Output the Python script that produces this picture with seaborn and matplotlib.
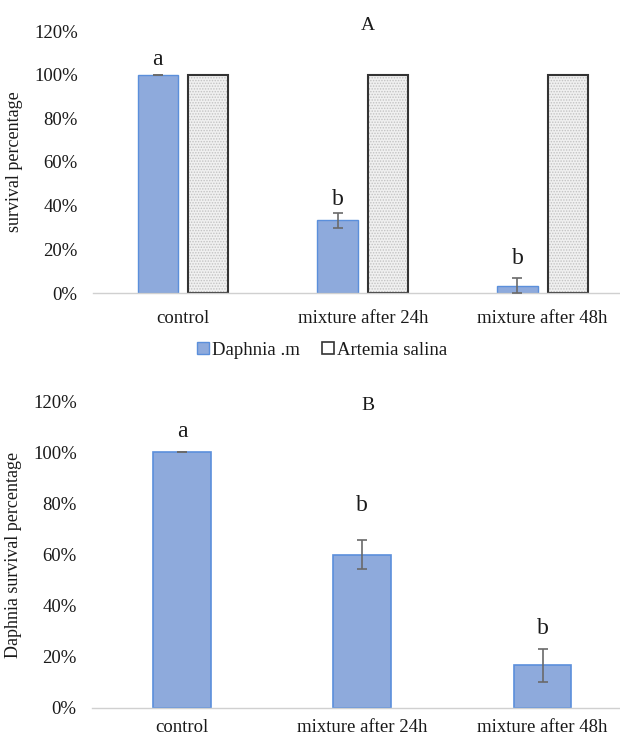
import matplotlib
matplotlib.use("Agg")
import matplotlib.pyplot as plt
import matplotlib.ticker as mticker
from matplotlib.patches import Patch
import seaborn as sns
import pandas as pd

# ---- data ----
treatments = ["control", "mixture after 24h", "mixture after 48h"]
species = ["Daphnia .m", "Artemia salina"]

# panel A: survival of both species (fraction)
daphnia_a = [1.00, 0.333, 0.033]
daphnia_a_err = [0.0, 0.034, 0.034]
artemia_a = [1.00, 1.00, 1.00]
letters_a = ["a", "b", "b"]
letters_a_y = [1.07, 0.43, 0.16]

# panel B: Daphnia survival (fraction)
daphnia_b = [1.00, 0.60, 0.167]
daphnia_b_err = [0.0, 0.058, 0.064]
letters_b = ["a", "b", "b"]
letters_b_y = [1.08, 0.79, 0.31]

y_ticks = [0, 0.2, 0.4, 0.6, 0.8, 1.0, 1.2]

# ---- style ----
sns.set_theme(style="white")
plt.rcParams["font.family"] = ["Liberation Serif", "DejaVu Serif"]
plt.rcParams["hatch.linewidth"] = 0.7

blue_fill = "#8eaadc"
blue_edge = "#5b8fdb"
gray_fill = "#f0f0f0"
err_col = "#6a6a6a"
txt_col = "#1a1a1a"
FS = 13.5

W, H = 620, 736
fig = plt.figure(figsize=(W / 100, H / 100), dpi=100)

x_right = 2.43


def make_axes(left_px, top_px, bottom_px):
    return fig.add_axes([left_px / W, 1 - bottom_px / H,
                         1 - left_px / W, (bottom_px - top_px) / H])


def style_axes(ax, ylabel, xpad):
    ax.set_xlim(-0.5, x_right)
    ax.set_ylim(0, 1.2)
    ax.set_yticks(y_ticks)
    ax.yaxis.set_major_formatter(mticker.PercentFormatter(1.0, decimals=0))
    for s in ["top", "right", "left"]:
        ax.spines[s].set_visible(False)
    ax.spines["bottom"].set_color("#d0d0d0")
    ax.spines["bottom"].set_linewidth(1.0)
    ax.tick_params(axis="y", length=0, pad=11, labelsize=FS, labelcolor=txt_col)
    ax.tick_params(axis="x", which="major", length=0, pad=xpad, labelsize=FS,
                   labelcolor=txt_col)
    ax.set_xticks([-0.5, 0.5, 1.5], minor=True)
    ax.tick_params(axis="x", which="minor", length=5, width=1.0,
                   color="#d0d0d0", direction="out")
    ax.set_xlabel("")
    ax.set_ylabel(ylabel, fontsize=13, color=txt_col, labelpad=8)
    ax.grid(False)


# ---- panel A ----
axA = make_axes(93, 31, 293)
dfA = pd.DataFrame({
    "treatment": treatments * 2,
    "species": [species[0]] * 3 + [species[1]] * 3,
    "survival": daphnia_a + artemia_a,
})
sns.barplot(data=dfA, x="treatment", y="survival", hue="species",
            order=treatments, hue_order=species,
            palette=[blue_fill, gray_fill], width=0.56, gap=0.2,
            saturation=1, errorbar=None, legend=False, ax=axA)

for bar in axA.containers[0]:
    bar.set_facecolor(blue_fill)
    bar.set_edgecolor(blue_edge)
    bar.set_linewidth(1.0)
for bar in axA.containers[1]:
    bar.set_facecolor(gray_fill)
    bar.set_hatch("......")
    bar.set_edgecolor("#333333")
    bar.set_linewidth(1.5)
    bar._hatch_color = (0.76, 0.76, 0.76, 1.0)

xa = [b.get_x() + b.get_width() / 2 for b in axA.containers[0]]
axA.errorbar(xa, daphnia_a, yerr=daphnia_a_err, fmt="none", ecolor=err_col,
             elinewidth=1.2, capsize=3.5, capthick=1.2, zorder=5)
for x, y, t in zip(xa, letters_a_y, letters_a):
    axA.text(x, y, t, ha="center", va="center", fontsize=17, color=txt_col)
style_axes(axA, "survival percentage", 12)
fig.text(368 / W, 1 - 25 / H, "A", ha="center", va="center", fontsize=14,
         color=txt_col)

legend_handles = [
    Patch(facecolor=blue_fill, edgecolor=blue_edge, linewidth=1.0),
    Patch(facecolor="white", edgecolor="#333333", linewidth=1.2),
]
fig.legend(legend_handles, species, loc="center",
           bbox_to_anchor=(322 / W, 1 - 350 / H), ncol=2, frameon=False,
           fontsize=FS, handlelength=0.65, handleheight=0.65, handletextpad=0.15,
           columnspacing=1.2, labelcolor=txt_col)

# ---- panel B ----
axB = make_axes(92, 401, 708)
dfB = pd.DataFrame({"treatment": treatments, "survival": daphnia_b})
sns.barplot(data=dfB, x="treatment", y="survival", order=treatments,
            color=blue_fill, width=0.32, saturation=1, errorbar=None, ax=axB)
for bar in axB.patches:
    bar.set_facecolor(blue_fill)
    bar.set_edgecolor(blue_edge)
    bar.set_linewidth(1.2)

xb = [b.get_x() + b.get_width() / 2 for b in axB.patches]
axB.errorbar(xb, daphnia_b, yerr=daphnia_b_err, fmt="none", ecolor=err_col,
             elinewidth=1.2, capsize=3.5, capthick=1.2, zorder=5)
for x, y, t in zip(xb, letters_b_y, letters_b):
    axB.text(x, y, t, ha="center", va="center", fontsize=17, color=txt_col)
style_axes(axB, "Daphnia survival percentage", 8)
fig.text(368 / W, 1 - 405 / H, "B", ha="center", va="center", fontsize=14,
         color=txt_col)

fig.savefig("out.png", dpi=100, facecolor="white")
